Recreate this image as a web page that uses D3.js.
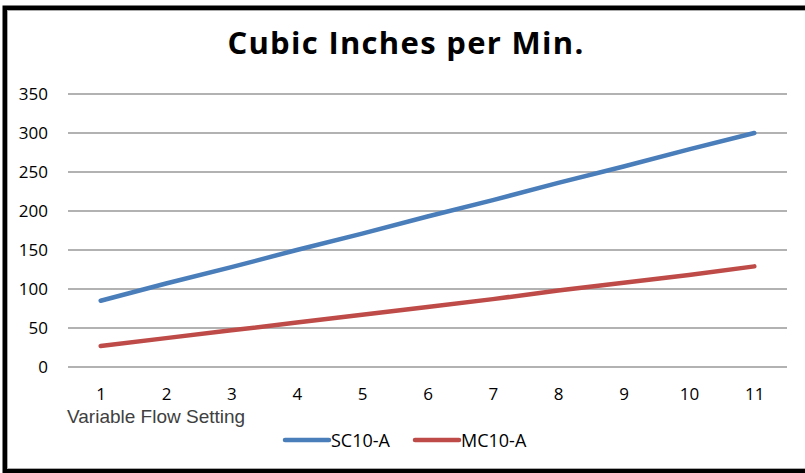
<!DOCTYPE html>
<meta charset="utf-8">
<head>
  <script src="https://d3js.org/d3.v7.min.js"></script>
  <style>
    body { margin: 0; background: #fff; }
    text { font-family: "Open Sans", "Liberation Sans", sans-serif; }
  </style>
</head>
<body>
  <svg id="chart"></svg>
  <script>
    // data
    var settings = [1, 2, 3, 4, 5, 6, 7, 8, 9, 10, 11];
    var sc10 = [85, 107, 128, 150, 171, 193, 214, 236, 257, 279, 300];
    var mc10 = [27, 37, 47, 57, 67, 77, 87, 98, 108, 118, 129];
    var yTicks = [0, 50, 100, 150, 200, 250, 300, 350];
    var seriesNames = ["SC10-A", "MC10-A"];
    var seriesColors = ["#4a7ebb", "#be4b48"];

    var W = 805, H = 473;
    var margin = {top: 94, right: 18, bottom: 106, left: 68};
    var width = W - margin.left - margin.right,
        height = H - margin.top - margin.bottom;

    var svg = d3.select("#chart").attr("width", W).attr("height", H);

    // outer border (right edge falls off the picture)
    svg.append("rect")
      .attr("x", 5).attr("y", 8).attr("width", W + 10).attr("height", H - 10)
      .attr("fill", "#fff").attr("stroke", "#000").attr("stroke-width", 5);
    svg.append("rect")
      .attr("x", 7.5).attr("y", 10.5).attr("width", W + 10).attr("height", H - 15)
      .attr("fill", "none").attr("stroke", "#aaa").attr("stroke-width", 1);

    // title
    svg.append("text")
      .attr("x", 406).attr("y", 54)
      .attr("text-anchor", "middle")
      .style("font-size", "31px").style("font-weight", "bold")
      .style("letter-spacing", "1.3px")
      .text("Cubic Inches per Min.");

    var chart = svg.append("g")
      .attr("transform", "translate(" + margin.left + "," + margin.top + ")");

    var x = d3.scalePoint().domain(settings).range([0, width]).padding(0.5);
    var y = d3.scaleLinear().domain([0, 350]).range([height, 0]);

    // gridlines
    chart.append("g")
      .selectAll("line")
      .data(yTicks)
      .enter().append("line")
      .attr("x1", 0).attr("x2", width)
      .attr("y1", function(d){ return y(d); })
      .attr("y2", function(d){ return y(d); })
      .attr("stroke", "#999").attr("stroke-width", 1.5);

    // left axis labels
    var yAxis = chart.append("g")
      .call(d3.axisLeft(y).tickValues(yTicks).tickSize(0).tickPadding(20));
    yAxis.select(".domain").remove();
    yAxis.selectAll("text").style("font-size", "17px").attr("fill", "#000");

    // bottom axis labels
    var xAxis = chart.append("g")
      .attr("transform", "translate(0," + height + ")")
      .call(d3.axisBottom(x).tickSize(0).tickPadding(21));
    xAxis.select(".domain").remove();
    xAxis.selectAll("text").style("font-size", "17px").attr("fill", "#000");

    // axis title
    svg.append("text")
      .attr("x", 67).attr("y", 423)
      .style("font-family", "'Liberation Sans', Arial, sans-serif")
      .style("font-size", "19px")
      .attr("fill", "#404040")
      .text("Variable Flow Setting");

    // lines
    var line = d3.line()
      .x(function(d, i){ return x(settings[i]); })
      .y(function(d){ return y(d); });

    [sc10, mc10].forEach(function(s, i) {
      chart.append("path")
        .datum(s)
        .attr("fill", "none")
        .attr("stroke", seriesColors[i])
        .attr("stroke-width", 4.5)
        .attr("stroke-linecap", "round")
        .attr("d", line);
    });

    // legend
    var legendX = [285, 415];
    seriesNames.forEach(function(name, i) {
      var g = svg.append("g").attr("transform", "translate(" + legendX[i] + ",440)");
      g.append("line")
        .attr("x1", 0).attr("x2", 44).attr("y1", 0).attr("y2", 0)
        .attr("stroke", seriesColors[i]).attr("stroke-width", 4.5)
        .attr("stroke-linecap", "round");
      g.append("text")
        .attr("x", 46).attr("y", 6.5)
        .style("font-size", "18px")
        .text(name);
    });
  </script>
</body>
